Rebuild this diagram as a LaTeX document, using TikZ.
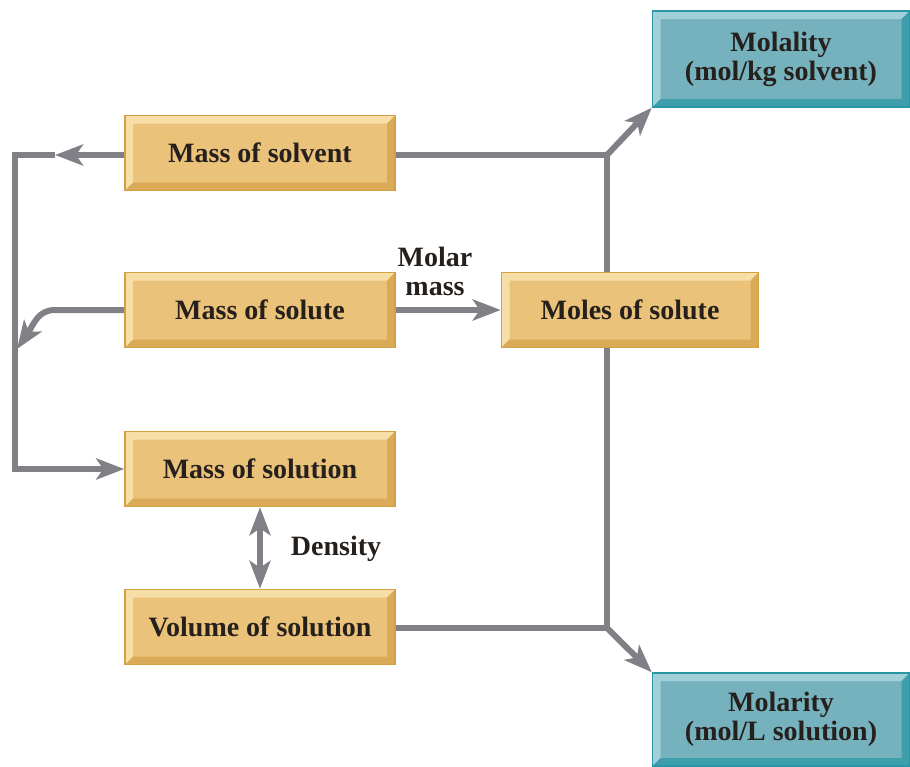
\documentclass[tikz,border=0pt]{standalone}
\usepackage{fontspec}
\setmainfont{Liberation Serif}
\usetikzlibrary{arrows.meta,calc,backgrounds}
\definecolor{goldfill}{RGB}{234,194,122}
\definecolor{goldlight}{RGB}{246,222,166}
\definecolor{golddark}{RGB}{212,160,70}
\definecolor{tealfill}{RGB}{118,178,190}
\definecolor{teallight}{RGB}{162,208,216}
\definecolor{tealdark}{RGB}{40,150,164}
\definecolor{arrowgray}{RGB}{128,128,134}
\definecolor{txt}{RGB}{38,32,28}
\tikzset{
  bevel/.style 2 args={path picture={
    \fill[#1] (path picture bounding box.north west) -- (path picture bounding box.north east)
      -- ([xshift=-8pt,yshift=-8pt]path picture bounding box.north east)
      -- ([xshift=8pt,yshift=-8pt]path picture bounding box.north west)
      -- ([xshift=8pt,yshift=8pt]path picture bounding box.south west)
      -- (path picture bounding box.south west) -- cycle;
    \fill[#2] (path picture bounding box.south east) -- (path picture bounding box.north east)
      -- ([xshift=-8pt,yshift=-8pt]path picture bounding box.north east)
      -- ([xshift=-8pt,yshift=8pt]path picture bounding box.south east)
      -- ([xshift=8pt,yshift=8pt]path picture bounding box.south west)
      -- (path picture bounding box.south west) -- cycle;
  }},
  txtfont/.style={font=\bfseries\fontsize{28}{29}\selectfont, text=txt},
  goldbox/.style={draw=golddark, line width=1.5pt, fill=goldfill, minimum width=270pt,
    minimum height=75pt, inner sep=0pt, txtfont, bevel={goldlight}{golddark!70!goldfill}},
  tealbox/.style={draw=tealdark, line width=1.5pt, fill=tealfill, minimum width=257pt,
    inner sep=0pt, align=center, txtfont, bevel={teallight}{tealdark!70!tealfill}},
  lbl/.style={txtfont, align=center, inner sep=0pt},
  conn/.style={draw=arrowgray, line width=6pt},
  tip/.tip={Stealth[length=28pt,width=21pt,inset=7pt]},
}
\begin{document}
\begin{tikzpicture}[x=1pt,y=-1pt]
\useasboundingbox (0,0) rectangle (910,766);
\node[goldbox] (solvent) at (260,153) {Mass of solvent};
\node[goldbox] (solute) at (260,310) {Mass of solute};
\node[goldbox] (solution) at (260,469) {Mass of solution};
\node[goldbox] (volume) at (260,627) {Volume of solution};
\node[goldbox, minimum width=257pt] (moles) at (630,310) {Moles of solute};
\node[tealbox, minimum height=96pt] (molality) at (781,59) {Molality\\(mol/kg solvent)};
\node[tealbox, minimum height=93pt] (molarity) at (781,719.5) {Molarity\\(mol/L solution)};
\node[lbl] (molar) at (435,271) {Molar\\mass};
\node[lbl] (density) at (336,549) {Density};
\coordinate (a1) at (55,155);
\coordinate (a2) at (15,155);
\coordinate (a3) at (15,469);
\coordinate (s1) at (55,310);
\coordinate (s2) at (38,310);
\coordinate (s3) at (34,324);
\coordinate (s4) at (17,349);
\coordinate (c1) at (607,155);
\coordinate (c2) at (607,628);
\begin{scope}[on background layer]
\draw[conn,-{tip}] ([yshift=-2pt]solvent.west) -- (a1);
\draw[conn,-{tip}] (a1) -- (a2) -- (a3) -- (solution.west);
\draw[conn,-{tip}] (solute.west) -- (s1) .. controls (s2) and (s3) .. (s4);
\draw[conn,-{tip}] (solute.east) -- (moles.west);
\draw[conn,{tip}-{tip}] (solution.south) -- (volume.north);
\draw[conn] ([yshift=-2pt]solvent.east) -- (c1) -- (c2) -- ([yshift=-1pt]volume.east);
\draw[conn,-{tip}] (c1) -- (molality.south west);
\draw[conn,-{tip}] (c2) -- (molarity.north west);
\end{scope}
\end{tikzpicture}
\end{document}
